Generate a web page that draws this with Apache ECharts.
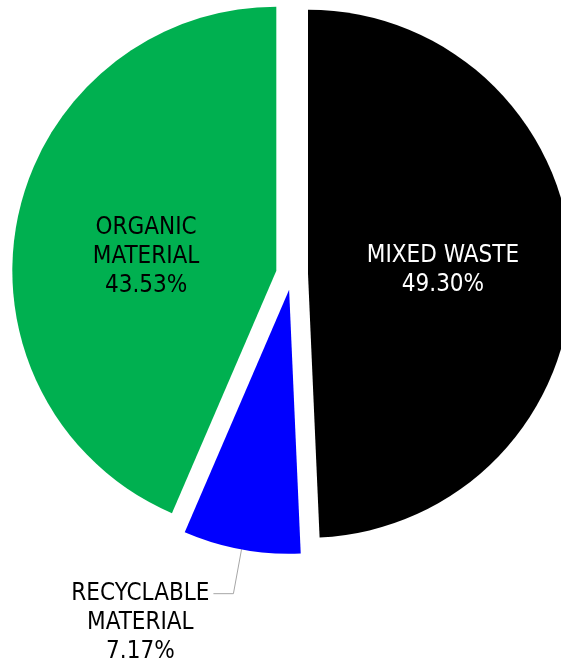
<!DOCTYPE html>
<html>
<head>
    <meta charset="UTF-8">
    <title>Waste composition</title>
    <script type="text/javascript" src="https://cdn.jsdelivr.net/npm/echarts@6/dist/echarts.min.js"></script>
    <style>
        html, body { margin: 0; padding: 0; background: #fff; }
    </style>
</head>
<body>
    <div id="main" style="width: 561px;height:662px;"></div>
    <script type="text/javascript">
        var categories = ['MIXED WASTE', 'RECYCLABLE\nMATERIAL', 'ORGANIC\nMATERIAL'];
        var shares = [49.30, 7.17, 43.53];
        var colors = ['#000000', '#0000ff', '#00b050'];
        var labelColors = ['#ffffff', '#000000', '#000000'];

        var myChart = echarts.init(document.getElementById('main'));

        function labelText(p) {
            var lines = (p.name + '\n' + p.value.toFixed(2) + '%').split('\n');
            return lines.map(function (s) { return '{c|' + s + '}'; }).join('\n');
        }

        var data = categories.map(function (name, i) {
            var item = {
                name: name,
                value: shares[i],
                selected: true,
                itemStyle: { color: colors[i] },
                label: { color: labelColors[i] }
            };
            if (i === 1) {
                // small slice: label outside, leader line hits the first text line
                item.label.position = 'outside';
                item.label.padding = [58, 0, 0, 0];
                item.labelLine = { show: true };
            }
            return item;
        });

        var option = {
            animation: false,
            textStyle: { fontFamily: 'DejaVu Sans Condensed' },
            series: [{
                type: 'pie',
                top: 0,
                bottom: -30,
                center: [292, 274],
                radius: 264,
                startAngle: 90,
                clockwise: true,
                selectedMode: 'multiple',
                selectedOffset: 16,
                emphasis: { disabled: true },
                label: {
                    position: 'inside',
                    fontSize: 24,
                    lineHeight: 29,
                    distanceToLabelLine: 4,
                    formatter: labelText,
                    rich: {
                        c: { align: 'center', fontSize: 24, lineHeight: 29 }
                    }
                },
                labelLine: {
                    show: false,
                    length: 45,
                    length2: 20,
                    lineStyle: { color: '#a6a6a6', width: 1 }
                },
                labelLayout: function (params) {
                    if (params.dataIndex === 2) {
                        return { dx: 2, dy: 13 };
                    }
                },
                data: data
            }]
        };
        myChart.setOption(option);
    </script>
</body>
</html>
